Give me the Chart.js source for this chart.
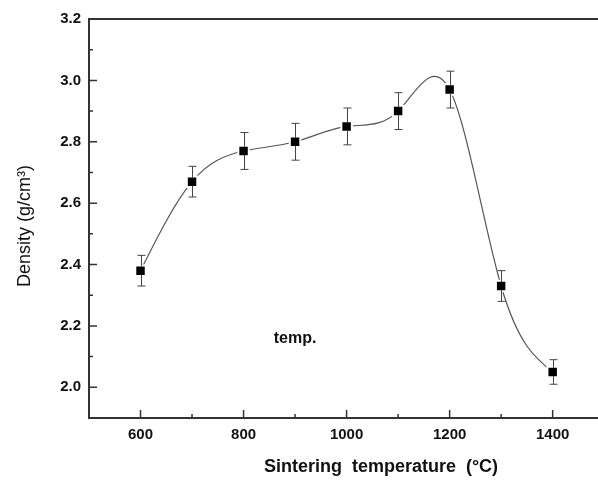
<!DOCTYPE html>
<html><head><meta charset="utf-8">
<script src="https://cdn.jsdelivr.net/npm/chart.js@4.4.1/dist/chart.umd.min.js"></script>
<style>html,body{margin:0;padding:0;background:#fff;overflow:hidden}</style>
</head><body>
<canvas id="c" width="598" height="480"></canvas>
<script>
const temperatures = [600, 700, 800, 900, 1000, 1100, 1200, 1300, 1400];
const density = [2.38, 2.67, 2.77, 2.80, 2.85, 2.90, 2.97, 2.33, 2.05];
const densityErr = [0.05, 0.05, 0.06, 0.06, 0.06, 0.06, 0.06, 0.05, 0.04];
const xTickValues = [600, 800, 1000, 1200, 1400];
const xMinorTicks = [700, 900, 1100, 1300];
const yTickValues = [2.0, 2.2, 2.4, 2.6, 2.8, 3.0, 3.2];
const yMinorTicks = [2.1, 2.3, 2.5, 2.7, 2.9, 3.1];
const xTitle = 'Sintering  temperature  (\u00B0C)';
const yTitle = 'Density (g/cm\u00B3)';
const noteText = 'temp.';
const FONT = '"Liberation Sans", Arial, Helvetica, sans-serif';

// slopes of a natural cubic spline through the data (used for the line's bezier control points)
function naturalSplineSlopes(xs, ys) {
  const n = xs.length, h = [], M = new Array(n).fill(0);
  for (let i = 0; i < n - 1; i++) h.push(xs[i + 1] - xs[i]);
  const cp = [], dp = [];
  for (let i = 1; i < n - 1; i++) {
    const a = h[i - 1], b = 2 * (h[i - 1] + h[i]), c = h[i];
    const d = 6 * ((ys[i + 1] - ys[i]) / h[i] - (ys[i] - ys[i - 1]) / h[i - 1]);
    const k = i - 1;
    const prevC = k > 0 ? cp[k - 1] : 0, prevD = k > 0 ? dp[k - 1] : 0;
    const den = b - a * prevC;
    cp.push(c / den);
    dp.push((d - a * prevD) / den);
  }
  for (let k = n - 3; k >= 0; k--) {
    M[k + 1] = dp[k] - cp[k] * (k + 2 <= n - 2 ? M[k + 2] : 0);
  }
  const m = [];
  for (let i = 0; i < n - 1; i++) m.push((ys[i + 1] - ys[i]) / h[i] - h[i] * (2 * M[i] + M[i + 1]) / 6);
  m.push((ys[n - 1] - ys[n - 2]) / h[n - 2] + h[n - 2] * (M[n - 2] + 2 * M[n - 1]) / 6);
  return { h, m };
}

const splinePlugin = {
  id: 'spline',
  beforeDatasetDraw(chart, args) {
    const meta = args.meta, x = chart.scales.x, y = chart.scales.y;
    const { h, m } = naturalSplineSlopes(temperatures, density);
    const n = temperatures.length;
    meta.data.forEach((el, i) => {
      if (i > 0) {
        el.cp1x = x.getPixelForValue(temperatures[i] - h[i - 1] / 3);
        el.cp1y = y.getPixelForValue(density[i] - h[i - 1] / 3 * m[i]);
      } else { el.cp1x = el.x; el.cp1y = el.y; }
      if (i < n - 1) {
        el.cp2x = x.getPixelForValue(temperatures[i] + h[i] / 3);
        el.cp2y = y.getPixelForValue(density[i] + h[i] / 3 * m[i]);
      } else { el.cp2x = el.x; el.cp2y = el.y; }
    });
    meta.dataset._pointsUpdated = true;
    meta.dataset._path = undefined;
  }
};

const decor = {
  id: 'decor',
  afterDatasetsDraw(chart) {
    const ctx = chart.ctx, x = chart.scales.x, y = chart.scales.y;
    ctx.save();
    ctx.strokeStyle = '#444';
    ctx.lineWidth = 1;
    temperatures.forEach((t, i) => {
      const px = Math.round(x.getPixelForValue(t)) + 0.5;
      const c = y.getPixelForValue(density[i]);
      const top = y.getPixelForValue(density[i] + densityErr[i]);
      const bot = y.getPixelForValue(density[i] - densityErr[i]);
      ctx.beginPath();
      ctx.moveTo(px, top); ctx.lineTo(px, c - 4);
      ctx.moveTo(px, c + 4); ctx.lineTo(px, bot);
      ctx.moveTo(px - 4, top); ctx.lineTo(px + 4, top);
      ctx.moveTo(px - 4, bot); ctx.lineTo(px + 4, bot);
      ctx.stroke();
    });
    ctx.restore();
  },
  afterDraw(chart) {
    const ctx = chart.ctx, a = chart.chartArea, x = chart.scales.x, y = chart.scales.y;
    ctx.save();
    ctx.strokeStyle = '#333';
    ctx.lineWidth = 2;
    ctx.beginPath();
    ctx.moveTo(a.left - 1, a.top);
    ctx.lineTo(chart.width, a.top);
    ctx.stroke();
    ctx.lineWidth = 1.5;
    ctx.beginPath();
    yTickValues.forEach(v => { const py = y.getPixelForValue(v); ctx.moveTo(a.left, py); ctx.lineTo(a.left + 8, py); });
    yMinorTicks.forEach(v => { const py = y.getPixelForValue(v); ctx.moveTo(a.left, py); ctx.lineTo(a.left + 4, py); });
    xTickValues.forEach(v => { const px = x.getPixelForValue(v); ctx.moveTo(px, a.bottom); ctx.lineTo(px, a.bottom - 8); });
    xMinorTicks.forEach(v => { const px = x.getPixelForValue(v); ctx.moveTo(px, a.bottom); ctx.lineTo(px, a.bottom - 4); });
    ctx.stroke();

    ctx.fillStyle = '#111';
    ctx.textAlign = 'center';
    ctx.textBaseline = 'middle';
    ctx.font = 'bold 18px ' + FONT;
    ctx.fillText(xTitle, 381, 467);
    ctx.font = 'bold 16px ' + FONT;
    ctx.fillText(noteText, x.getPixelForValue(900), y.getPixelForValue(2.16));
    ctx.save();
    ctx.translate(25, 226);
    ctx.rotate(-Math.PI / 2);
    ctx.font = '18px ' + FONT;
    ctx.fillText(yTitle, 0, 0);
    ctx.restore();
    ctx.restore();
  }
};

new Chart(document.getElementById('c'), {
  type: 'line',
  data: {
    datasets: [{
      data: temperatures.map((t, i) => ({ x: t, y: density[i] })),
      borderColor: '#555',
      borderWidth: 1.2,
      tension: 0.4,
      fill: false,
      pointStyle: 'rect',
      pointRadius: 7.4,
      pointBackgroundColor: '#000',
      pointBorderColor: '#fff',
      pointBorderWidth: 2
    }]
  },
  options: {
    responsive: false,
    devicePixelRatio: 1,
    animation: false,
    events: [],
    layout: { autoPadding: false, padding: { top: 19, right: 0, left: 0, bottom: 0 } },
    plugins: { legend: { display: false }, tooltip: { enabled: false } },
    scales: {
      x: {
        type: 'linear', min: 500, max: 1488,
        afterBuildTicks: s => { s.ticks = xTickValues.map(v => ({ value: v })); },
        afterFit: s => { s.height = 62; s.paddingLeft = 0; s.paddingRight = 0; },
        grid: { display: false, drawTicks: false },
        border: { display: true, color: '#333', width: 2 },
        ticks: { color: '#111', font: { family: FONT, size: 15, weight: 'bold' }, padding: 8, maxRotation: 0, callback: v => String(v) }
      },
      y: {
        type: 'linear', min: 1.9, max: 3.2,
        afterBuildTicks: s => { s.ticks = yTickValues.map(v => ({ value: v })); },
        afterFit: s => { s.width = 89; },
        grid: { display: false, drawTicks: false },
        border: { display: true, color: '#333', width: 2 },
        ticks: { color: '#111', font: { family: FONT, size: 15, weight: 'bold' }, padding: 8, callback: v => Number(v).toFixed(1) }
      }
    }
  },
  plugins: [splinePlugin, decor]
});
</script>
</body></html>
